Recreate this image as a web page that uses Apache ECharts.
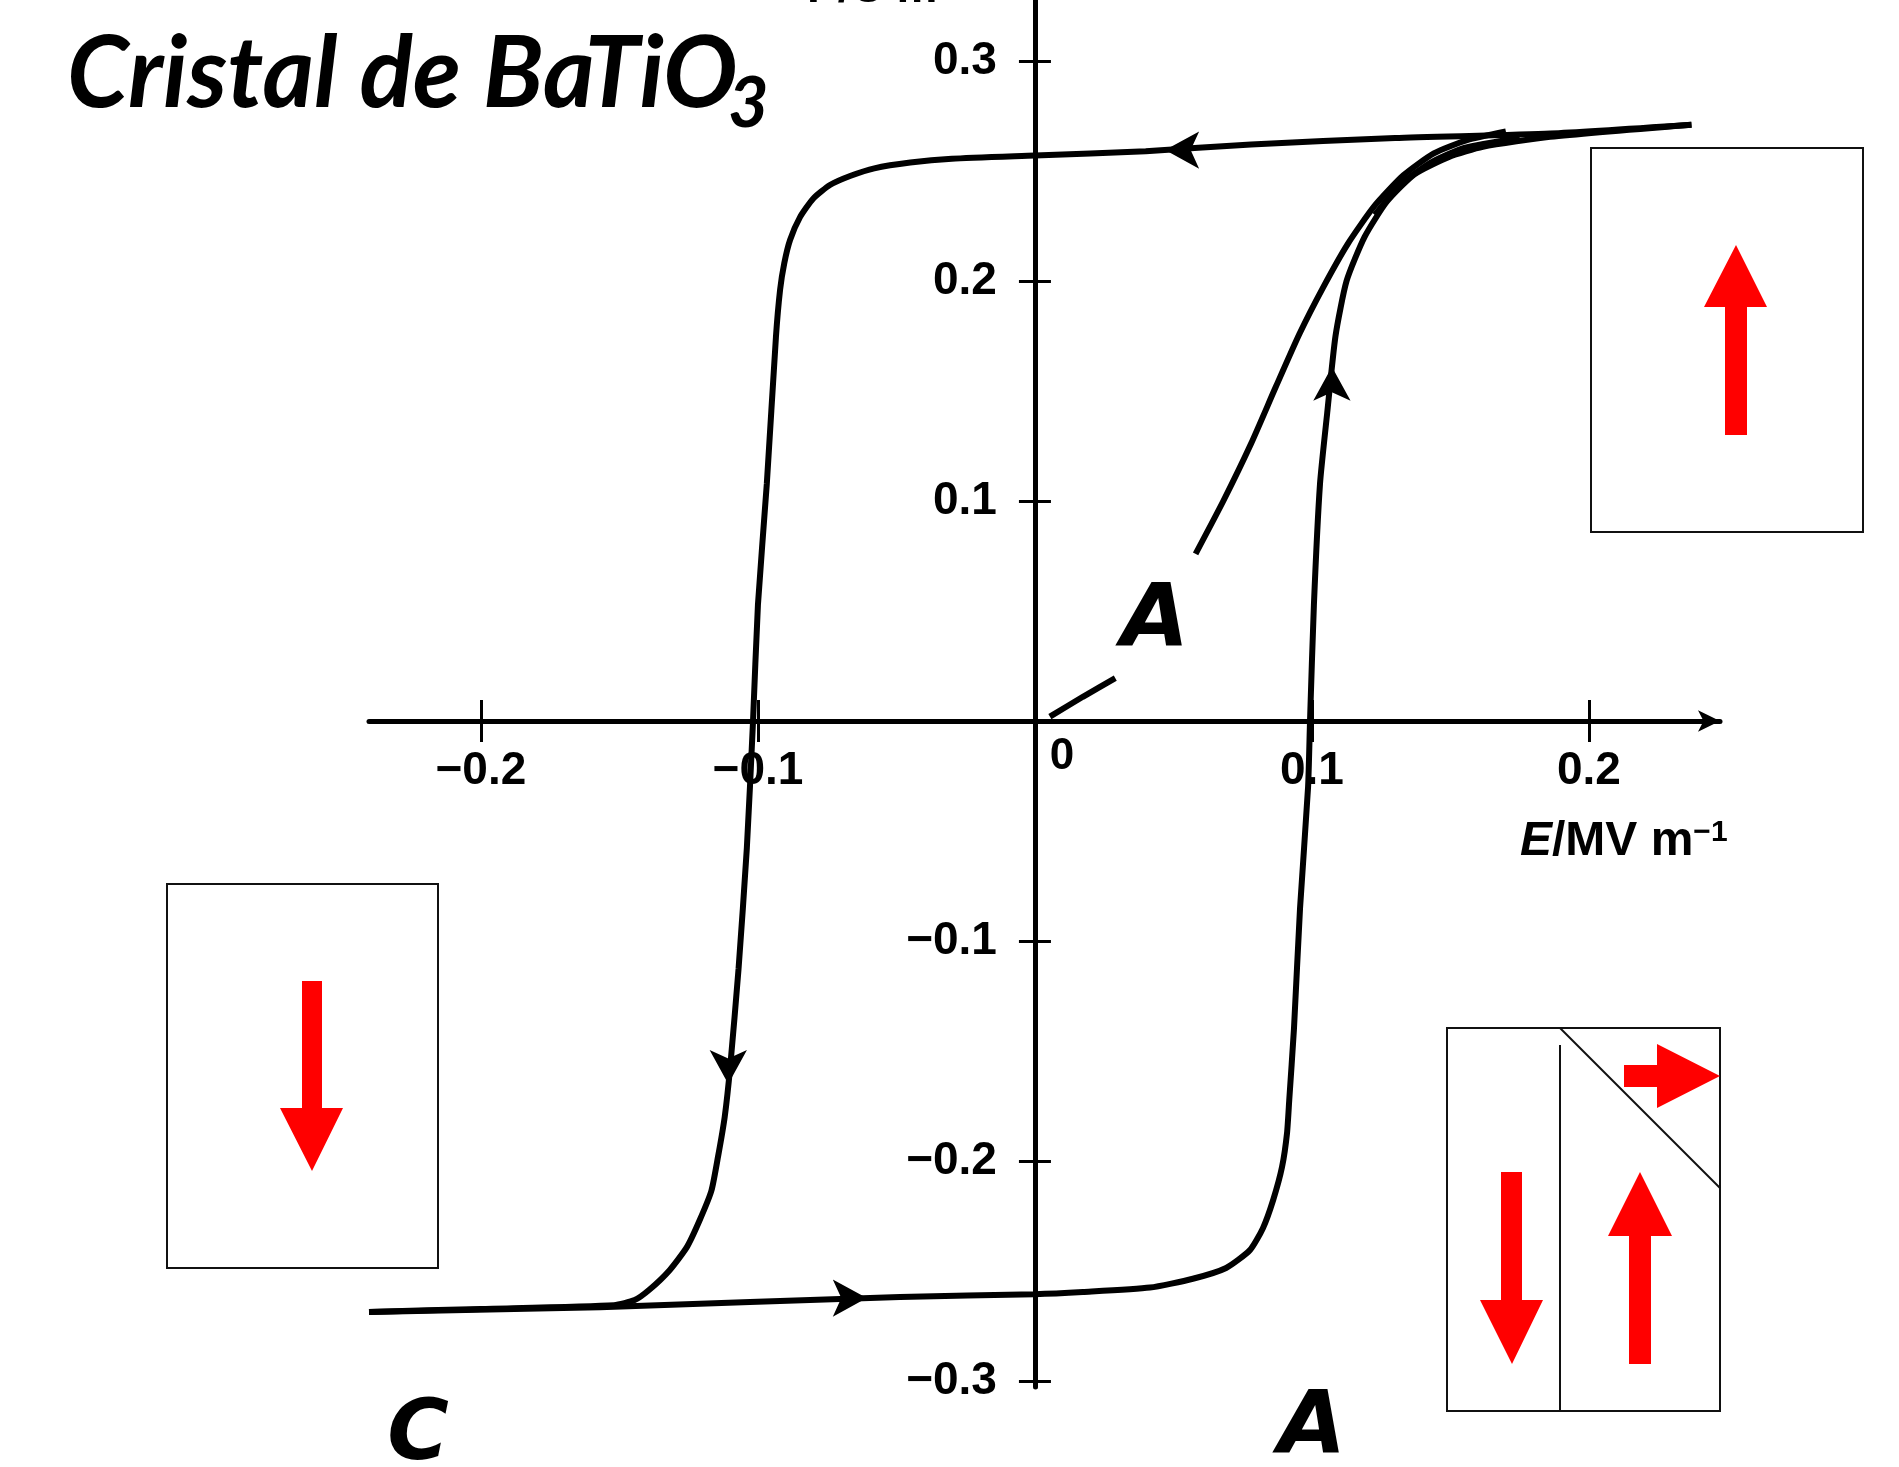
<!DOCTYPE html>
<html><head><meta charset="utf-8">
<script src="https://cdn.jsdelivr.net/npm/echarts@6/dist/echarts.min.js"></script>
<style>html,body{margin:0;padding:0;background:#fff}#c{width:1899px;height:1467px}</style>
</head><body><div id="c"></div>
<script>
// ---- data (E in MV m^-1, P in C m^-2) ----
const xTickValues = [-0.2, -0.1, 0.1, 0.2];
const yTickValues = [-0.3, -0.2, -0.1, 0.1, 0.2, 0.3];

// descending branch: from +Emax along the top, down the left side, to -Emax
const descE = [0.237, 0.186, 0.13, 0.078, 0.04, 0, -0.03, -0.045, -0.058, -0.0665, -0.074, -0.08, -0.0848, -0.0884, -0.0905, -0.092, -0.0935, -0.0968, -0.1, -0.1018, -0.104, -0.107, -0.11, -0.112, -0.1144, -0.1168, -0.121, -0.1256, -0.1318, -0.139, -0.1445, -0.152, -0.2, -0.2404];
const descP = [0.271, 0.267, 0.265, 0.262, 0.259, 0.257, 0.2555, 0.2538, 0.2512, 0.2478, 0.2436, 0.2375, 0.229, 0.2186, 0.208, 0.196, 0.1745, 0.1077, 0.0527, -0.001, -0.0577, -0.1127, -0.157, -0.18, -0.198, -0.2135, -0.2268, -0.239, -0.2495, -0.2583, -0.2632, -0.2655, -0.2672, -0.2686];

// ascending branch: from -Emax along the bottom, up the right side, to +Emax
const ascE = [-0.2404, -0.157, -0.0487, 0, 0.0173, 0.0415, 0.057, 0.069, 0.0776, 0.0823, 0.086, 0.0892, 0.091, 0.0918, 0.0935, 0.0957, 0.0986, 0.0993, 0.1007, 0.1029, 0.1055, 0.1085, 0.1125, 0.119, 0.127, 0.137, 0.1495, 0.1617, 0.186, 0.237];
const ascP = [-0.2686, -0.2664, -0.2618, -0.2605, -0.2595, -0.2575, -0.2535, -0.2486, -0.2405, -0.2305, -0.2177, -0.2027, -0.1873, -0.1723, -0.14, -0.085, -0.03, 0, 0.0527, 0.1077, 0.14, 0.175, 0.2, 0.22, 0.236, 0.2485, 0.2564, 0.261, 0.2655, 0.271];

// first-polarization (virgin) curve, interrupted by the label A
const virgin1E = [0.0054, 0.0173, 0.029];
const virgin1P = [0.002, 0.011, 0.0195];
const virgin2E = [0.058, 0.068, 0.078, 0.087, 0.0955, 0.104, 0.113, 0.1225, 0.133, 0.144, 0.156, 0.17];
const virgin2P = [0.076, 0.100, 0.126, 0.152, 0.176, 0.197, 0.217, 0.234, 0.248, 0.258, 0.264, 0.268];

// short intermediate trace near the upper right knee
const minorE = [0.1227, 0.1318, 0.1426, 0.155, 0.175];
const minorP = [0.230, 0.2436, 0.2536, 0.2605, 0.265];

// direction arrows sitting on the loop
const arrowE = [0.047, -0.0607, -0.1107, 0.1072];
const arrowP = [0.2595, -0.2623, -0.165, 0.161];

const zip = (a, b) => a.map((v, i) => [v, b[i]]);
const fmt = v => (v < 0 ? '\u2212' : '') + Math.abs(v).toFixed(1);

const chart = echarts.init(document.getElementById('c'), null, {renderer: 'canvas'});
const tickFont = {fontFamily: 'Liberation Sans', fontWeight: 'bold', fontSize: 46, color: '#000'};
const lineSeries = (name, e, p) => ({
  name, type: 'line', data: zip(e, p), symbol: 'none', smooth: 0.2,
  lineStyle: {color: '#000', width: 6}, z: 3, silent: true
});
const arrowRot = [90, -90, 180, 0];

const X0 = -0.2404, X1 = 0.2473, Y0 = -0.3027, Y1 = 0.3277;
const G = {left: 369, top: 0, width: 1351, height: 1387};
const zeroX = G.left + (0 - X0) / (X1 - X0) * G.width;   // pixel column of E = 0
const zeroY = G.top + (Y1 - 0) / (Y1 - Y0) * G.height;  // pixel row of P = 0
const red = '#ff0000';

chart.setOption({
  animation: false,
  backgroundColor: '#fff',
  grid: {...G, containLabel: false},
  xAxis: [
    {type: 'value', min: X0, max: X1, position: 'bottom', offset: -(G.top + G.height - zeroY),
     axisLine: {show: true, onZero: false, symbol: ['none', 'arrow'], symbolSize: [16, 22], lineStyle: {color: '#000', width: 5}},
     axisTick: {show: true, customValues: xTickValues, length: 21, inside: false, lineStyle: {color: '#000', width: 3}},
     axisLabel: {show: true, customValues: xTickValues, margin: 27, formatter: fmt, ...tickFont},
     splitLine: {show: false}},
    {type: 'value', min: X0, max: X1, position: 'top', offset: -(zeroY - G.top),
     axisLine: {show: false, onZero: false},
     axisTick: {show: true, customValues: xTickValues, length: 21, inside: false, lineStyle: {color: '#000', width: 3}},
     axisLabel: {show: false}, splitLine: {show: false}}
  ],
  yAxis: [
    {type: 'value', min: Y0, max: Y1, position: 'left', offset: -(zeroX - G.left),
     axisLine: {show: true, onZero: false, lineStyle: {color: '#000', width: 5}},
     axisTick: {show: true, customValues: yTickValues, length: 16, inside: false, lineStyle: {color: '#000', width: 3}},
     axisLabel: {show: true, customValues: yTickValues, margin: 38, formatter: fmt, ...tickFont},
     splitLine: {show: false}},
    {type: 'value', min: Y0, max: Y1, position: 'right', offset: -(G.left + G.width - zeroX),
     axisLine: {show: false, onZero: false},
     axisTick: {show: true, customValues: yTickValues, length: 16, inside: false, lineStyle: {color: '#000', width: 3}},
     axisLabel: {show: false}, splitLine: {show: false}}
  ],
  series: [
    lineSeries('descending', descE, descP),
    lineSeries('ascending', ascE, ascP),
    lineSeries('virgin1', virgin1E, virgin1P),
    lineSeries('virgin2', virgin2E, virgin2P),
    lineSeries('minor', minorE, minorP),
    {name: 'arrows', type: 'scatter', silent: true, z: 4,
     data: zip(arrowE, arrowP).map((v, i) => ({value: v, symbolRotate: arrowRot[i]})),
     symbol: 'arrow', symbolSize: [28, 34], itemStyle: {color: '#000', opacity: 1}}
  ],
  graphic: [
    // title
    {type: 'text', z: 10, style: {text: 'Cristal de BaTiO', x: 67, y: 75, fontFamily: 'Lato', fontStyle: 'italic', fontWeight: 'bold', fontSize: 99, fill: '#000', textAlign: 'left', textVerticalAlign: 'middle'}},
    {type: 'text', z: 10, style: {text: '3', x: 728, y: 104, fontFamily: 'Lato', fontStyle: 'italic', fontWeight: 'bold', fontSize: 70, fill: '#000', textAlign: 'left', textVerticalAlign: 'middle'}},
    // axis titles
    {type: 'text', z: 10, style: {text: 'P/C m\u207B\u00B2', x: 807, y: 12, fontFamily: 'Liberation Sans', fontWeight: 'bold', fontSize: 46, fill: '#000', textAlign: 'left', textVerticalAlign: 'bottom'}},
    {type: 'text', z: 10, style: {text: '{i|E}/MV m{s|\u22121}', x: 1520, y: 842, textAlign: 'left', textVerticalAlign: 'middle',
      rich: {i: {fontFamily: 'Liberation Sans', fontWeight: 'bold', fontStyle: 'italic', fontSize: 48, fill: '#000'},
             s: {fontFamily: 'Liberation Sans', fontWeight: 'bold', fontSize: 30, fill: '#000', verticalAlign: 'top'}},
      fontFamily: 'Liberation Sans', fontWeight: 'bold', fontSize: 48, fill: '#000'}},
    // "0" label, offset right of the vertical axis
    {type: 'text', z: 10, style: {text: '0', x: 1062, y: 757, fontFamily: 'Liberation Sans', fontWeight: 'bold', fontSize: 44, fill: '#000', textAlign: 'center', textVerticalAlign: 'middle'}},
    // letters
    {type: 'text', z: 10, style: {text: 'A', x: 1155, y: 623, fontFamily: 'DejaVu Sans', fontWeight: 'bold', fontStyle: 'italic', fontSize: 88, fill: '#000', textAlign: 'center', textVerticalAlign: 'middle'}},
    {type: 'text', z: 10, style: {text: 'C', x: 418, y: 1437, fontFamily: 'DejaVu Sans', fontWeight: 'bold', fontStyle: 'italic', fontSize: 84, fill: '#000', textAlign: 'center', textVerticalAlign: 'middle'}},
    {type: 'text', z: 10, style: {text: 'A', x: 1312, y: 1430, fontFamily: 'DejaVu Sans', fontWeight: 'bold', fontStyle: 'italic', fontSize: 88, fill: '#000', textAlign: 'center', textVerticalAlign: 'middle'}},
    // box 1 (up)
    {type: 'rect', z: 10, shape: {x: 1591, y: 148, width: 272, height: 384}, style: {fill: '#fff', stroke: '#111', lineWidth: 2}},
    {type: 'polygon', z: 11, shape: {points: [[1736,245],[1767,307],[1747,307],[1747,435],[1725,435],[1725,307],[1704,307]]}, style: {fill: red}},
    // box 2 (down)
    {type: 'rect', z: 10, shape: {x: 167, y: 884, width: 271, height: 384}, style: {fill: '#fff', stroke: '#111', lineWidth: 2}},
    {type: 'polygon', z: 11, shape: {points: [[302,981],[322,981],[322,1108],[343,1108],[312,1171],[280,1108],[302,1108]]}, style: {fill: red}},
    // box 3 (domains)
    {type: 'rect', z: 10, shape: {x: 1447, y: 1028, width: 273, height: 383}, style: {fill: '#fff', stroke: '#111', lineWidth: 2}},
    {type: 'line', z: 11, shape: {x1: 1560, y1: 1045, x2: 1560, y2: 1411}, style: {stroke: '#111', lineWidth: 2}},
    {type: 'line', z: 11, shape: {x1: 1560, y1: 1028, x2: 1720, y2: 1188}, style: {stroke: '#111', lineWidth: 2}},
    {type: 'polygon', z: 11, shape: {points: [[1501,1172],[1522,1172],[1522,1300],[1543,1300],[1512,1364],[1480,1300],[1501,1300]]}, style: {fill: red}},
    {type: 'polygon', z: 11, shape: {points: [[1640,1172],[1672,1236],[1651,1236],[1651,1364],[1629,1364],[1629,1236],[1608,1236]]}, style: {fill: red}},
    {type: 'polygon', z: 11, shape: {points: [[1624,1065],[1657,1065],[1657,1044],[1720,1076],[1657,1108],[1657,1087],[1624,1087]]}, style: {fill: red}}
  ]
});
</script>
</body></html>
